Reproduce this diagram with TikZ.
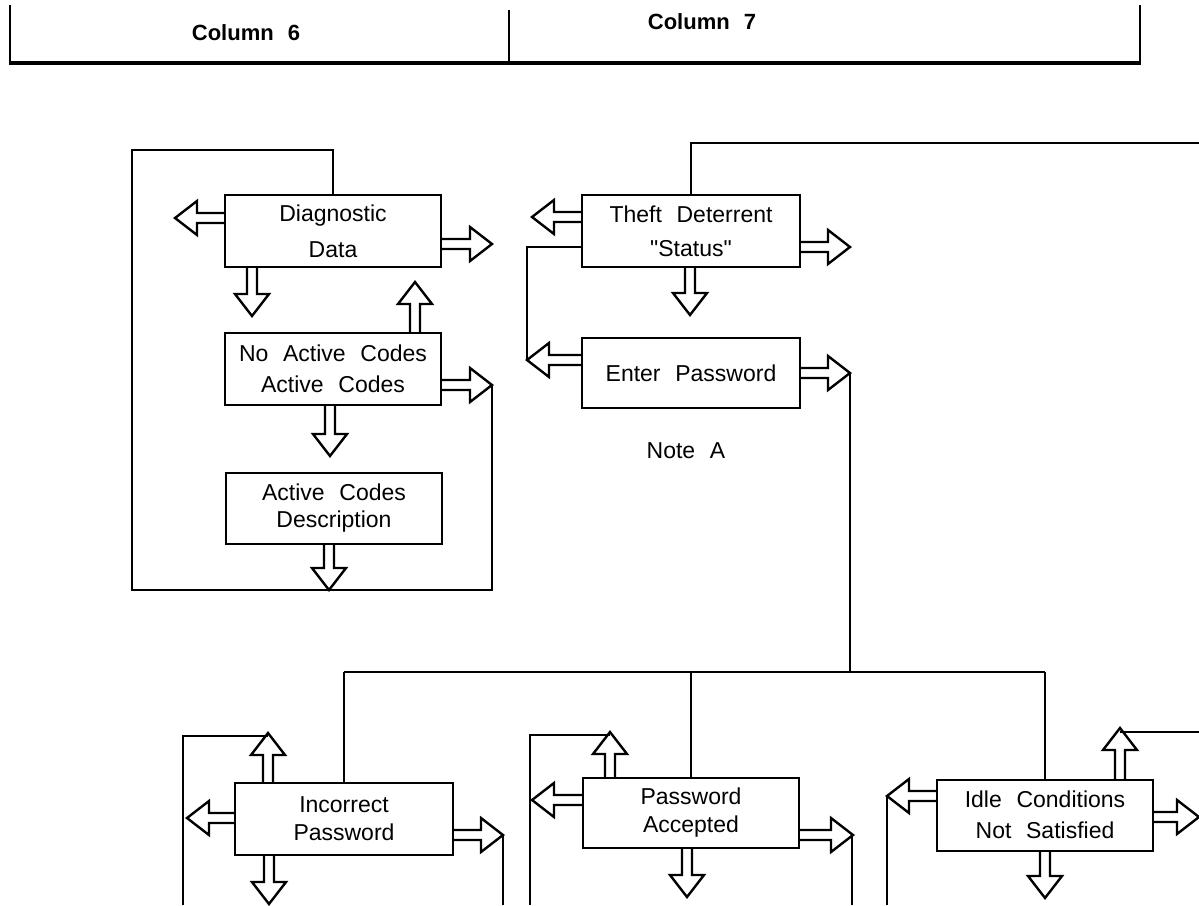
\documentclass[tikz,border=0pt]{standalone}
\usepackage{fontspec}
\setmainfont[WordSpace=2.3,Ligatures=TeXOff]{Liberation Sans}
\begin{document}
\begin{tikzpicture}[x=0.5pt,y=-0.5pt,
  box/.style={draw,line width=1pt,inner sep=0pt,minimum width=108pt,minimum height=36pt,align=center},
  ln/.style={line width=0.75pt},
  arrowline/.style={draw,line width=1.2pt,line join=miter},
  harr/.pic={\draw[arrowline] (0,5) -- ({#1-22},5) -- ({#1-22},17) -- (#1,0) -- ({#1-22},-17) -- ({#1-22},-5) -- (0,-5);},
  hd/.style={font=\fontsize{11}{12}\selectfont\bfseries},
  lbl/.style={font=\fontsize{11.5}{13}\selectfont}
]
\useasboundingbox (0,0) rectangle (1199,905);
% header
\draw[line width=0.8pt] (10,5) -- (10,63);
\draw[line width=0.8pt] (509,10) -- (509,63);
\draw[line width=0.8pt] (1140,5) -- (1140,63);
\draw[line width=2pt] (9,63) -- (1141,63);
\node[hd] (c6) at (246,33) {Column 6};
\node[hd] (c7) at (702,22) {Column 7};

% boxes
\node[box,font=\fontsize{11.5}{18}\selectfont] (diag) at (333,231) {Diagnostic\\Data};
\node[box,font=\fontsize{11.5}{15.5}\selectfont] (noac) at (333,369) {No Active Codes\\Active Codes};
\node[box,minimum height=35.5pt,font=\fontsize{11.5}{13.5}\selectfont] (acd) at (334,508) {Active Codes\\Description};
\node[box,minimum width=109pt,font=\fontsize{11.5}{17}\selectfont] (theft) at (691,231) {Theft Deterrent\\"Status"};
\node[box,minimum width=109pt,minimum height=35pt,font=\fontsize{11.5}{14}\selectfont] (enter) at (691,373) {Enter Password};
\node[lbl] (note) at (686,451) {Note A};
\node[box,minimum width=109pt,font=\fontsize{11.5}{14}\selectfont] (inc) at (344,819) {Incorrect\\Password};
\node[box,minimum height=35pt,font=\fontsize{11.5}{14}\selectfont] (pwa) at (691,813) {Password\\Accepted};
\node[box,minimum height=35.5pt,font=\fontsize{11.5}{15.5}\selectfont] (idle) at (1045,815) {Idle Conditions\\Not Satisfied};

% hollow arrows
\pic[rotate=180] at (225,218) {harr=50};
\pic at (441,244) {harr=51};
\pic[rotate=-90] at (252,267) {harr=49};
\pic[rotate=90] at (415,333) {harr=51};
\pic at (441,385) {harr=51};
\pic[rotate=-90] at (330,405) {harr=51};
\pic[rotate=-90] at (329,543) {harr=47};

\pic[rotate=180] at (582,217) {harr=50};
\pic at (800,247) {harr=50};
\pic[rotate=-90] at (690,267) {harr=48};
\pic[rotate=180] at (582,360) {harr=55};
\pic at (800,373) {harr=50};

\pic[rotate=90] at (268,783) {harr=50};
\pic[rotate=180] at (235,818) {harr=48};
\pic at (453,835) {harr=50};
\pic[rotate=-90] at (269,855) {harr=49};

\pic[rotate=90] at (610,778) {harr=46};
\pic[rotate=180] at (583,800) {harr=51};
\pic at (800,835) {harr=53};
\pic[rotate=-90] at (687,848) {harr=49};

\pic[rotate=90] at (1120,780) {harr=52};
\pic[rotate=180] at (937,796) {harr=50};
\pic at (1153,817) {harr=46};
\pic[rotate=-90] at (1045,851) {harr=47};

% named connector ends
\coordinate (loopL) at (132,150);
\coordinate (loopB) at (492,590);
\coordinate (noacR) at (492,385);
\coordinate (topR) at (1199,143);
\coordinate (thL) at (582,247);
\coordinate (thLc) at (527,247);
\coordinate (enL) at (527,360);
\coordinate (enR) at (850,373);
\coordinate (busL) at (344,672);
\coordinate (busR) at (1045,672);
\coordinate (busM) at (850,672);
\coordinate (incU) at (268,736);
\coordinate (incUL) at (183,736);
\coordinate (incBL) at (183,905);
\coordinate (incR) at (503,835);
\coordinate (incBR) at (503,905);
\coordinate (pwaU) at (610,735);
\coordinate (pwaUL) at (530,735);
\coordinate (pwaBL) at (530,905);
\coordinate (pwaR) at (852,835);
\coordinate (pwaBR) at (852,905);
\coordinate (idleU) at (1120,732);
\coordinate (idleUR) at (1199,732);
\coordinate (idleL) at (887,797);
\coordinate (idleBL) at (887,905);

% connectors
\draw[ln] (diag.north) |- (loopL) |- (loopB) -- (noacR);
\draw[ln] (theft.north) |- (topR);
\draw[ln] (thL) -- (thLc) -- (enL);
\draw[ln] (enR) -- (busM);
\draw[ln] (busL) -- (busR);
\draw[ln] (busL) -- (inc.north);
\draw[ln] (pwa.north |- busL) -- (pwa.north);
\draw[ln] (busR) -- (idle.north);
\draw[ln] (incU) -- (incUL) -- (incBL);
\draw[ln] (incR) -- (incBR);
\draw[ln] (pwaU) -- (pwaUL) -- (pwaBL);
\draw[ln] (pwaR) -- (pwaBR);
\draw[ln] (idleU) -- (idleUR);
\draw[ln] (idleL) -- (idleBL);
\end{tikzpicture}
\end{document}
